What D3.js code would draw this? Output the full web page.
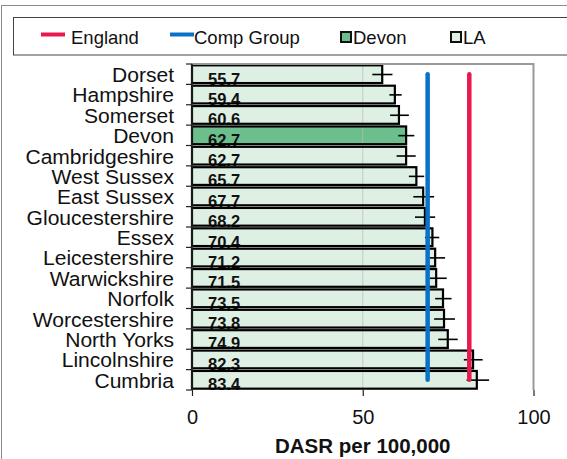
<!DOCTYPE html>
<html><head><meta charset="utf-8">
<script src="https://cdn.jsdelivr.net/npm/d3@7"></script>
<style>body{margin:0;background:#fff}svg{display:block;font-family:"Liberation Sans",Arial,sans-serif}</style>
</head><body><svg id="c" width="567" height="459"></svg>
<script>
const categories=["Dorset","Hampshire","Somerset","Devon","Cambridgeshire","West Sussex","East Sussex","Gloucestershire","Essex","Leicestershire","Warwickshire","Norfolk","Worcestershire","North Yorks","Lincolnshire","Cumbria"];
const values=[55.7,59.4,60.6,62.7,62.7,65.7,67.7,68.2,70.4,71.2,71.5,73.5,73.8,74.9,82.3,83.4];
const ciLow=[52.8,57.8,58.0,60.4,59.9,63.5,64.8,65.3,68.2,69.5,69.7,71.2,70.9,72.1,79.6,80.4];
const ciHigh=[58.7,61.4,63.5,65.1,65.5,68.0,70.9,71.2,72.4,74.1,74.6,76.0,77.0,77.8,85.1,87.0];
const englandValue=81.2;
const compGroupValue=69.0;
const highlight="Devon";
const xTicks=[0,50,100];
const legendItems=[{label:"England",type:"line",color:"#e8194f"},{label:"Comp Group",type:"line",color:"#0a72c6"},{label:"Devon",type:"box",color:"#6cbf8c"},{label:"LA",type:"box",color:"#deefe3"}];

const svg=d3.select("#c");
const L=192,R=533.5,T=64,B=390;
const x=d3.scaleLinear().domain([0,100]).range([L,R]);
const y=d3.scaleBand().domain(categories).range([T,B]).paddingInner(0.13).paddingOuter(0.065);
const step=y.step();

// outer border
svg.append("rect").attr("x",1.5).attr("y",5.5).attr("width",600).attr("height",500).attr("fill","none").attr("stroke","#8a8a8a").attr("stroke-width",1);
// legend box
svg.append("rect").attr("x",13.5).attr("y",17.5).attr("width",600).attr("height",37.5).attr("fill","#fff").attr("stroke","#444").attr("stroke-width",1);
const lx=[41,170,340,450];
legendItems.forEach((d,i)=>{
  const g=svg.append("g");
  let tx;
  if(d.type==="line"){
    g.append("line").attr("x1",lx[i]).attr("x2",lx[i]+24).attr("y1",34.5).attr("y2",34.5).attr("stroke",d.color).attr("stroke-width",4);
    tx=lx[i]+(i===0?30:24);
  } else {
    g.append("rect").attr("x",lx[i]+1).attr("y",32).attr("width",10).attr("height",10).attr("fill",d.color).attr("stroke","#111").attr("stroke-width",2);
    tx=lx[i]+13;
  }
  g.append("text").attr("x",tx).attr("y",44).attr("font-size",18.5).attr("fill","#111").text(d.label);
});

const plot=svg.append("g");
// bars fill
plot.selectAll("rect.f").data(categories).join("rect").attr("class","f")
 .attr("x",x(0)).attr("y",d=>y(d)).attr("width",(d,i)=>x(values[i])-x(0)).attr("height",y.bandwidth())
 .attr("fill",d=>d===highlight?"#6cbf8c":"#deefe3");
// gridline at 50
plot.selectAll("line.g").data([50]).join("line").attr("class","g").attr("x1",d=>x(d)).attr("x2",d=>x(d)).attr("y1",T).attr("y2",B).attr("stroke","#bbb").attr("stroke-width",1).attr("opacity",0.7);
// value labels
plot.selectAll("text.v").data(categories).join("text").attr("class","v")
 .attr("x",x(0)+16).attr("y",d=>y(d)+y.bandwidth()+1.5).attr("font-size",16.5).attr("font-weight","bold").attr("fill","#111")
 .text((d,i)=>values[i].toFixed(1));
// bar outline
plot.selectAll("rect.o").data(categories).join("rect").attr("class","o")
 .attr("x",x(0)).attr("y",d=>y(d)).attr("width",(d,i)=>x(values[i])-x(0)).attr("height",y.bandwidth())
 .attr("fill","none").attr("stroke","#000").attr("stroke-width",2.2);
// error bars
plot.selectAll("line.e").data(categories).join("line").attr("class","e")
 .attr("x1",(d,i)=>x(ciLow[i])).attr("x2",(d,i)=>x(ciHigh[i]))
 .attr("y1",d=>y(d)+step/2-1).attr("y2",d=>y(d)+step/2-1).attr("stroke","#000").attr("stroke-width",1.6);
// reference lines
const c0=y(categories[0])+y.bandwidth()/2, c1=y(categories[categories.length-1])+y.bandwidth()/2;
[[compGroupValue,"#0a72c6"],[englandValue,"#e8194f"]].forEach(([v,c])=>{
  plot.append("line").attr("x1",x(v)).attr("x2",x(v)).attr("y1",c0).attr("y2",c1).attr("stroke",c).attr("stroke-width",4.5).attr("stroke-linecap","round");
});
// plot border top/right
svg.append("path").attr("d",`M${L},${T}H${R}V${B}`).attr("fill","none").attr("stroke","#999").attr("stroke-width",2);

// y axis
const ya=svg.append("g").attr("transform",`translate(${L},0)`);
ya.append("line").attr("x1",0).attr("x2",0).attr("y1",T).attr("y2",B).attr("stroke","#222").attr("stroke-width",1.5);
const bounds=d3.range(categories.length+1).map(i=>T+i*step);
ya.selectAll("line.t").data(bounds).join("line").attr("class","t").attr("x1",-6).attr("x2",0).attr("y1",d=>d).attr("y2",d=>d).attr("stroke","#222").attr("stroke-width",1.2);
ya.selectAll("text").data(categories).join("text")
 .attr("transform",d=>`translate(-18,${y(d)+step/2+6.5}) scale(1.08,1)`)
 .attr("text-anchor","end").attr("font-size",19.5).attr("fill","#111").text(d=>d);

// x axis
const xa=svg.append("g").attr("transform",`translate(0,${B})`);
xa.call(d3.axisBottom(x).tickValues(xTicks).tickSize(6).tickPadding(14).tickFormat(d3.format("d")));
xa.select(".domain").remove();
xa.selectAll(".tick line").attr("stroke","#222").attr("stroke-width",1.2);
xa.selectAll(".tick text").attr("font-size",20).attr("fill","#111").attr("font-family","'Liberation Sans',Arial,sans-serif");
svg.append("text").attr("x",x(50)).attr("y",452.7).attr("text-anchor","middle").attr("font-size",20.5).attr("font-weight","bold").attr("fill","#111").text("DASR per 100,000");
</script></body></html>
